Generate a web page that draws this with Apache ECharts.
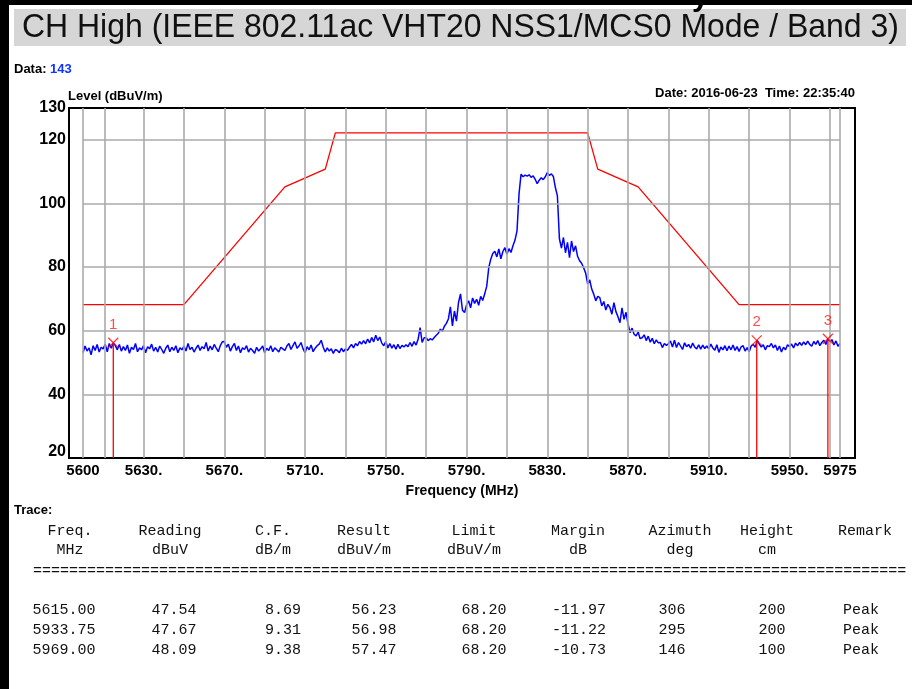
<!DOCTYPE html>
<html>
<head>
<meta charset="utf-8">
<script src="https://cdn.jsdelivr.net/npm/echarts@6/dist/echarts.min.js"></script>
<style>
  html, body { margin: 0; padding: 0; background: #fff; }
  #chart { width: 912px; height: 689px; }
</style>
</head>
<body>
<div id="chart"></div>
<script>
// Spectrum sweep, 1 MHz per sample starting at 5600 MHz (dBuV/m)
const sweepStart = 5600;
const sweepStep = 1;
const level = [
  53.1,55.2,53.6,54.6,52.4,55.3,53.8,55.7,53.3,54.8,
  54.3,55.8,53.4,56.0,54.5,56.2,55.3,54.0,55.7,53.6,
  55.0,53.8,55.5,52.9,54.8,54.1,56.0,53.4,54.6,54.0,
  55.3,53.1,55.0,54.3,55.8,53.6,54.8,53.3,55.2,54.1,
  52.9,54.5,55.5,53.4,54.8,53.8,55.3,53.1,54.6,54.0,
  55.2,53.6,56.0,54.1,54.8,53.3,54.5,55.5,53.8,55.0,
  54.3,56.3,53.6,55.2,54.0,55.7,54.5,53.4,55.3,56.5,
  56.6,54.8,55.8,53.6,55.0,56.0,53.8,55.2,53.1,54.6,
  54.1,55.3,53.3,54.5,53.8,52.9,54.8,53.6,54.3,55.2,
  53.1,54.5,53.8,55.3,53.4,54.6,54.0,53.3,54.8,54.3,
  53.8,55.2,56.0,54.1,55.3,56.5,54.5,55.2,56.3,54.3,
  53.1,55.0,54.0,55.5,53.4,54.5,55.3,55.8,57.0,54.8,
  53.3,54.6,53.6,54.3,52.9,54.1,53.8,53.1,54.5,53.4,
  54.3,53.8,54.8,55.7,54.6,56.0,55.3,56.6,55.8,56.9,
  55.9,57.4,56.2,57.9,56.5,58.6,56.9,58.0,56.1,55.3,
  56.6,54.6,56.0,54.5,55.6,54.2,55.7,54.4,55.4,54.9,
  55.6,55.0,56.3,55.1,56.6,55.5,57.3,61.0,56.3,57.8,
  57.8,56.9,57.5,57.1,57.9,58.6,59.2,60.5,59.8,61.4,
  62.3,63.7,67.5,61.5,66.2,63.0,68.8,71.6,66.4,65.7,
  68.1,69.4,67.2,70.3,68.6,69.9,68.0,70.8,69.5,71.6,
  74.0,79.8,82.5,84.3,85.0,83.2,85.7,82.6,84.9,86.1,
  84.0,85.8,84.6,86.7,88.5,91.4,103.0,109.2,108.4,108.9,
  108.6,109.0,108.2,108.7,107.6,106.2,107.3,108.1,107.5,108.4,
  109.7,108.8,109.3,108.5,105.0,102.4,88.9,86.0,89.3,84.5,
  87.8,83.0,88.2,84.9,86.7,83.4,82.0,81.2,79.8,78.1,
  74.7,76.0,73.1,71.5,69.4,70.8,70.4,67.8,69.2,66.5,
  68.3,67.3,65.2,68.8,66.0,64.4,62.5,67.2,63.6,65.8,
  62.1,59.4,60.8,58.9,58.4,59.6,57.5,57.8,58.7,56.9,
  58.3,56.4,57.6,55.9,57.1,56.2,56.3,54.7,56.0,55.4,
  55.9,56.8,54.9,57.0,54.7,56.3,55.2,54.1,56.2,55.0,
  55.7,54.5,56.1,54.9,54.3,55.6,54.2,55.5,54.4,55.2,
  54.3,55.8,54.6,53.9,55.6,53.2,54.9,54.0,55.3,53.7,
  55.2,54.0,55.5,53.8,55.0,53.5,54.9,55.3,53.6,54.7,
  53.4,55.2,55.7,54.8,57.0,55.8,54.9,55.6,54.0,55.3,
  55.0,56.0,54.6,55.5,53.8,55.2,53.3,54.8,54.0,55.6,
  55.0,55.8,54.6,56.1,55.3,56.3,55.4,56.5,55.6,56.7,
  55.7,55.1,56.6,55.7,56.9,55.3,56.3,57.0,55.7,57.5,
  56.5,57.2,55.5,56.8,55.1,56.0
];

// Emission limit mask vertices
const limitFreq  = [5600, 5650, 5700, 5720, 5725, 5850, 5855, 5875, 5925, 5975];
const limitLevel = [68.2, 68.2, 105.2, 110.8, 122.2, 122.2, 110.8, 105.2, 68.2, 68.2];

// Peak marker table
const markerNo = ['1', '2', '3'];
const markFreq = [5615.00, 5933.75, 5969.00];
const reading  = [47.54, 47.67, 48.09];
const corrFactor = [8.69, 9.31, 9.38];
const result   = [56.23, 56.98, 57.47];
const limitVal = [68.20, 68.20, 68.20];
const margin   = [-11.97, -11.22, -10.73];
const azimuth  = [306, 295, 146];
const heightCm = [200, 200, 100];
const remark   = ['Peak', 'Peak', 'Peak'];

// Axis ticks and grid
const xTicks = [5600, 5630, 5670, 5710, 5750, 5790, 5830, 5870, 5910, 5950, 5975];
const xTickText = ['5600', '5630.', '5670.', '5710.', '5750.', '5790.', '5830.', '5870.', '5910.', '5950.', '5975'];
const yTicks = [20, 40, 60, 80, 100, 120, 130];
const xGridLines = [5600, 5611, 5630, 5650, 5670, 5690, 5710, 5730, 5750, 5770, 5790, 5810, 5830, 5850, 5870, 5890, 5910, 5930, 5950, 5970, 5975];
const yGridLines = [40, 60, 80, 100, 120];

const headRow1 = ['Freq.', 'Reading', 'C.F.', 'Result', 'Limit', 'Margin', 'Azimuth', 'Height', 'Remark'];
const headRow2 = ['MHz', 'dBuV', 'dB/m', 'dBuV/m', 'dBuV/m', 'dB', 'deg', 'cm', ''];

const chart = echarts.init(document.getElementById('chart'), null, { renderer: 'canvas' });

const sansBold = 'bold 13px "Liberation Sans", Arial, sans-serif';
const mono = '15px "Liberation Mono", "DejaVu Sans Mono", monospace';
const axisFont = { fontFamily: '"Liberation Sans", Arial', fontWeight: 'bold', color: '#000' };

const traceData = level.map((v, i) => [sweepStart + i * sweepStep, v]);
const limitData = limitFreq.map((f, i) => [f, limitLevel[i]]);

const gridMarkData = [];
xGridLines.forEach(f => gridMarkData.push([{ coord: [f, 20] }, { coord: [f, 130] }]));
yGridLines.forEach(v => gridMarkData.push([{ coord: [5600, v] }, { coord: [5975, v] }]));

const markerLineSeries = markFreq.map((f, i) => ({
  type: 'line',
  data: [[f, 20], [f, result[i]]],
  symbol: 'none',
  lineStyle: { color: '#ff0000', width: 1.3 },
  silent: true,
  z: 5
}));

// Table text elements
const headX = [70, 170, 273, 364, 474, 578, 680, 767, 865];
const dataX = [64, 174, 283, 374, 484, 579, 672, 772, 861];
const tableEls = [];
headRow1.forEach((t, c) => tableEls.push({ type: 'text', style: { text: t, x: headX[c], y: 531, align: 'center', verticalAlign: 'middle', font: mono, fill: '#111' } }));
headRow2.forEach((t, c) => tableEls.push({ type: 'text', style: { text: t, x: headX[c], y: 550, align: 'center', verticalAlign: 'middle', font: mono, fill: '#111' } }));
tableEls.push({ type: 'text', style: { text: '='.repeat(97), x: 33, y: 571, align: 'left', verticalAlign: 'middle', font: mono, fill: '#111' } });
markFreq.forEach((f, r) => {
  const cells = [f.toFixed(2), reading[r].toFixed(2), corrFactor[r].toFixed(2), result[r].toFixed(2),
    limitVal[r].toFixed(2), margin[r].toFixed(2), String(azimuth[r]), String(heightCm[r]), remark[r]];
  cells.forEach((t, c) => tableEls.push({ type: 'text', style: { text: t, x: dataX[c], y: 610 + r * 20, align: 'center', verticalAlign: 'middle', font: mono, fill: '#111' } }));
});

const option = {
  animation: false,
  backgroundColor: '#ffffff',
  grid: {
    left: 69, top: 108, width: 786, height: 350,
    show: true, borderColor: '#000', borderWidth: 2, backgroundColor: 'transparent'
  },
  xAxis: {
    type: 'value',
    min: 5593.06, max: 5982.43,
    name: 'Frequency (MHz)',
    nameLocation: 'middle',
    nameGap: 26,
    nameTextStyle: Object.assign({ fontSize: 14 }, axisFont),
    axisLine: { show: false },
    axisTick: { show: false },
    splitLine: { show: false },
    axisLabel: Object.assign({
      customValues: xTicks,
      formatter: v => xTickText[xTicks.indexOf(v)],
      fontSize: 15,
      margin: 5
    }, axisFont)
  },
  yAxis: {
    type: 'value',
    min: 20, max: 130,
    axisLine: { show: false },
    axisTick: { show: false },
    splitLine: { show: false },
    axisLabel: Object.assign({
      customValues: yTicks,
      formatter: v => (v === 20 ? '{lo|20}' : String(v)),
      rich: { lo: Object.assign({ fontSize: 16, padding: [0, 0, 12, 0] }, axisFont) },
      fontSize: 16,
      margin: 3
    }, axisFont)
  },
  series: [
    {
      type: 'line', data: [], silent: true, z: 1,
      markLine: {
        silent: true, symbol: ['none', 'none'], animation: false,
        label: { show: false },
        lineStyle: { color: '#aaaaaa', width: 1.6, type: 'solid' },
        emphasis: { disabled: true },
        data: gridMarkData
      }
    },
    {
      type: 'line', data: limitData, symbol: 'none', silent: true, z: 3,
      lineStyle: { color: '#ff0000', width: 1.3 }
    },
    {
      type: 'line', data: traceData, symbol: 'none', silent: true, z: 4,
      lineStyle: { color: '#0000ff', width: 1.5 }
    },
    ...markerLineSeries,
    {
      type: 'scatter',
      data: markFreq.map((f, i) => [f, result[i]]),
      symbol: 'path://M0,0L10,10M10,0L0,10',
      symbolSize: 10,
      silent: true, z: 6,
      itemStyle: { color: 'rgba(0,0,0,0)', borderColor: '#ff0000', borderWidth: 1.2 },
      label: {
        show: true, position: 'top', distance: 5,
        formatter: p => markerNo[p.dataIndex],
        color: '#ff2020', fontSize: 15, fontFamily: '"Liberation Sans", Arial'
      }
    }
  ],
  graphic: [
    { type: 'rect', shape: { x: 0, y: 0, width: 912, height: 5 }, style: { fill: '#000' } },
    { type: 'rect', shape: { x: 0, y: 0, width: 9, height: 689 }, style: { fill: '#000' } },
    { type: 'rect', shape: { x: 14, y: 9, width: 892, height: 37 }, style: { fill: '#d6d6d6' } },
    { type: 'text', style: { text: 'y', x: 692, y: 13, verticalAlign: 'bottom', font: 'bold 30px "Liberation Sans", Arial', fill: '#000' } },
    { type: 'text', x: 22, y: 28, scaleX: 0.94,
      style: { text: 'CH High (IEEE 802.11ac VHT20 NSS1/MCS0 Mode / Band 3)', x: 0, y: 0, verticalAlign: 'middle', font: '34px "Liberation Sans", Arial, sans-serif', fill: '#111' } },
    { type: 'text', style: { text: '{a|Data: }{b|143}', x: 14, y: 69, verticalAlign: 'middle',
        rich: { a: { font: sansBold, fill: '#000' }, b: { font: sansBold, fill: '#1133ff' } } } },
    { type: 'text', style: { text: 'Level (dBuV/m)', x: 68, y: 96, verticalAlign: 'middle', font: sansBold, fill: '#000' } },
    { type: 'text', style: { text: 'Date: 2016-06-23  Time: 22:35:40', x: 855, y: 93, align: 'right', verticalAlign: 'middle', font: sansBold, fill: '#000' } },
    { type: 'text', style: { text: 'Trace:', x: 14, y: 510, verticalAlign: 'middle', font: sansBold, fill: '#000' } },
    ...tableEls
  ]
};

chart.setOption(option);
</script>
</body>
</html>
